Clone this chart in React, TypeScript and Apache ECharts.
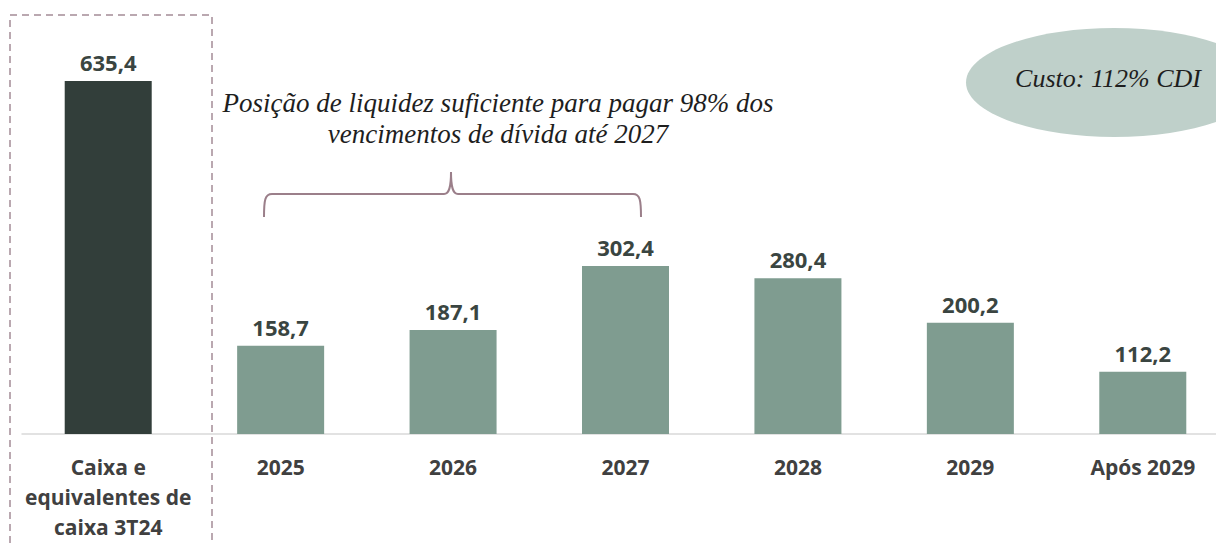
import React, { useEffect, useRef } from "react";
import * as echarts from "echarts";

const categories = [
  "Caixa e\nequivalentes de\ncaixa 3T24",
  "2025",
  "2026",
  "2027",
  "2028",
  "2029",
  "Após 2029",
];
const values = [635.4, 158.7, 187.1, 302.4, 280.4, 200.2, 112.2];
const noteLines = [
  "Posição de liquidez suficiente para pagar 98% dos",
  "vencimentos de dívida até 2027",
];
const costText = "Custo: 112% CDI";

const BRACE_PATH =
  "M264,217 C264,200 265,194 272,194 L444,194 C449,194 451,188 451,172 C451,188 453,194 458,194 L633,194 C640,194 641,200 641,217";

echarts.graphic.registerShape("brace", echarts.graphic.extendPath(BRACE_PATH, {}));

const LABEL_FONT = "'Open Sans', 'Noto Sans', sans-serif";

export default function App() {
  const ref = useRef<HTMLDivElement>(null);

  useEffect(() => {
    if (!ref.current) return;
    document.body.style.margin = "0";
    const chart = echarts.init(ref.current, undefined, { renderer: "svg" });
    chart.setOption({
      animation: false,
      grid: {
        left: 22,
        width: 1207,
        top: 45,
        bottom: 109,
        containLabel: false,
        outerBoundsMode: "none",
      },
      xAxis: {
        type: "category",
        data: categories,
        axisLine: { show: true, lineStyle: { color: "#d9d9d9", width: 1.5 } },
        axisTick: { show: false },
        axisLabel: {
          interval: 0,
          margin: 18,
          fontFamily: LABEL_FONT,
          fontWeight: "bold",
          fontSize: 21,
          lineHeight: 30,
          color: "#404040",
        },
      },
      yAxis: {
        type: "value",
        min: 0,
        max: 700,
        show: false,
        splitLine: { show: false },
      },
      series: [
        {
          type: "bar",
          data: values,
          barWidth: 87,
          itemStyle: {
            color: (p: any) => (p.dataIndex === 0 ? "#323e3a" : "#7f9c90"),
          },
          label: {
            show: true,
            position: "top",
            distance: 8,
            fontFamily: LABEL_FONT,
            fontWeight: "bold",
            fontSize: 22,
            color: "#3a4541",
            formatter: (p: any) => p.value.toFixed(1).replace(".", ","),
          },
        },
      ],
      graphic: [
        {
          type: "rect",
          shape: { x: 10, y: 15, width: 202, height: 560 },
          style: { fill: "none", stroke: "#a48c96", lineWidth: 1.5, lineDash: [7, 5] },
          z: 10,
        },
        {
          type: "ellipse",
          shape: { cx: 1114, cy: 82.5, rx: 148, ry: 54.5 },
          style: { fill: "#bfd0ca" },
          z: 5,
        },
        {
          type: "text",
          x: 1108,
          y: 78,
          style: {
            text: costText,
            fontFamily: "Liberation Serif",
            fontStyle: "italic",
            fontSize: 26,
            fill: "#1e1e1e",
            align: "center",
            verticalAlign: "middle",
          },
          z: 6,
        },
        {
          type: "text",
          x: 498,
          y: 103,
          style: {
            text: noteLines[0],
            fontFamily: "Liberation Serif",
            fontStyle: "italic",
            fontSize: 27,
            fill: "#1e1e1e",
            align: "center",
            verticalAlign: "middle",
          },
          z: 6,
        },
        {
          type: "text",
          x: 498,
          y: 134,
          style: {
            text: noteLines[1],
            fontFamily: "Liberation Serif",
            fontStyle: "italic",
            fontSize: 27,
            fill: "#1e1e1e",
            align: "center",
            verticalAlign: "middle",
          },
          z: 6,
        },
        {
          type: "brace",
          x: 0,
          y: 0,
          style: { fill: "none", stroke: "#9b7f8a", lineWidth: 2 },
          z: 6,
        },
      ],
    });
    return () => chart.dispose();
  }, []);

  return (
    <div
      ref={ref}
      style={{ position: "absolute", left: 0, top: 0, width: 1216, height: 543 }}
    />
  );
}
